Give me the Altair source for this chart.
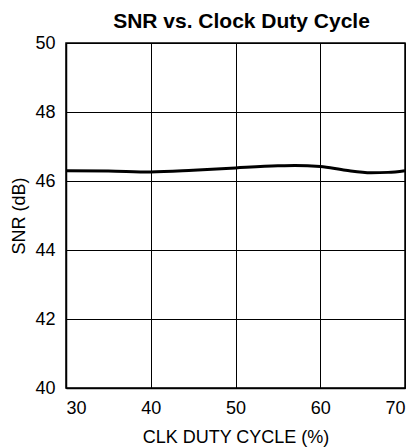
import altair as alt
import pandas as pd

duty = [30, 35, 40, 45, 50, 55, 57, 60, 63, 66, 68, 70]
snr = [46.30, 46.29, 46.26, 46.31, 46.38, 46.44, 46.45, 46.42, 46.31, 46.24, 46.25, 46.30]

df = pd.DataFrame({"duty": duty, "snr": snr})

FONT = "Liberation Sans"

chart = alt.Chart(df).mark_line(
    color="black", strokeWidth=3, interpolate="monotone"
).encode(
    x=alt.X("duty:Q", scale=alt.Scale(domain=[30, 70], nice=False),
            axis=alt.Axis(title="CLK DUTY CYCLE (%)", values=[30, 40, 50, 60, 70],
                          tickSize=0, labelPadding=11, titlePadding=11)),
    y=alt.Y("snr:Q", scale=alt.Scale(domain=[40, 50], nice=False, zero=False),
            axis=alt.Axis(title="SNR (dB)", values=[40, 42, 44, 46, 48, 50],
                          tickSize=0, labelPadding=11, titlePadding=6)),
).properties(
    width=339, height=345,
    title=alt.TitleParams("SNR vs. Clock Duty Cycle", font=FONT, fontSize=21,
                          fontWeight="bold", color="black", anchor="middle", dx=6, offset=2),
    autosize=alt.AutoSizeParams(type="none"),
    padding={"left": 58, "top": 35, "right": 5, "bottom": 60},
).configure_view(
    stroke="black", strokeWidth=1.5
).configure_axis(
    grid=True, gridColor="black", gridOpacity=1, gridWidth=1,
    domainColor="black", domainWidth=1.5,
    labelFont=FONT, labelFontSize=18, labelColor="black",
    titleFont=FONT, titleFontSize=18, titleFontWeight="normal", titleColor="black",
)

chart.save("out.html", embed_options={"renderer": "svg", "actions": False})
